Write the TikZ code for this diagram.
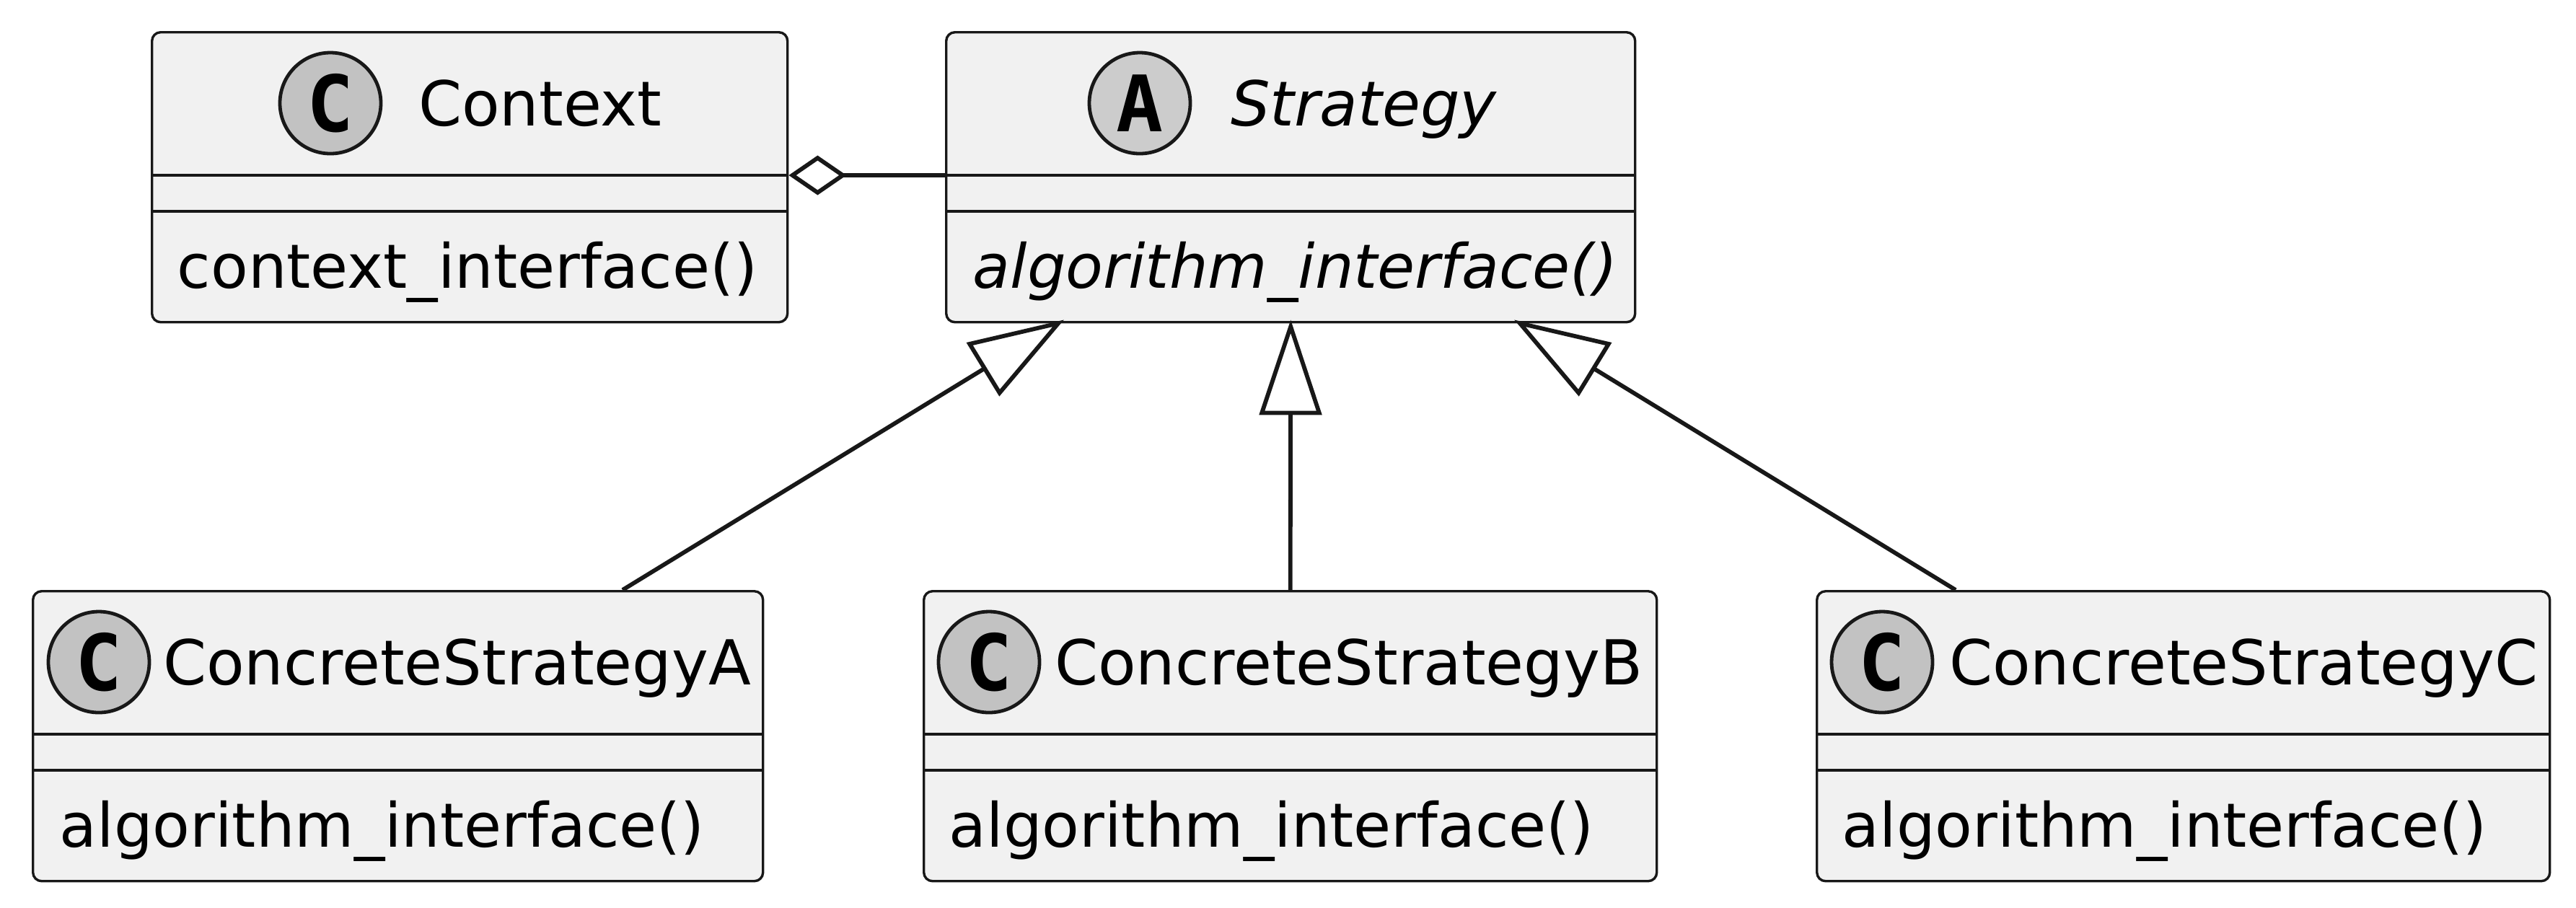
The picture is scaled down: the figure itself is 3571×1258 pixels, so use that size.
\documentclass[tikz,border=0pt]{standalone}
\usepackage{fontspec}
\setmainfont{DejaVu Sans}
\newfontfamily\spotfont{DejaVu Sans Mono}
\usepackage{xcolor}
\usetikzlibrary{arrows.meta,positioning,calc}

\definecolor{umlfill}{HTML}{F1F1F1}
\definecolor{umlline}{HTML}{181818}
\definecolor{spotclass}{HTML}{C2C2C2}
\definecolor{spotabstract}{HTML}{CCCCCC}

\tikzset{
  classbox/.style={draw=umlline, fill=umlfill, line width=0.85pt, rounded corners=3pt,
    inner sep=0pt, anchor=north west, minimum height=100.5pt},
  spot/.style={circle, draw=umlline, line width=1.2pt, minimum size=35pt, inner sep=0pt,
    font=\fontsize{27pt}{27pt}\spotfont\bfseries},
  umltext/.style={inner sep=0pt, text height=15.6pt, text depth=0pt,
    font=\fontsize{21.5pt}{25pt}\selectfont},
  optext/.style={umltext, anchor=west, text height=15.4pt,
    font=\fontsize{21.15pt}{25pt}\selectfont},
  sepline/.style={draw=umlline, line width=0.85pt},
  link/.style={draw=umlline, line width=1.45pt},
  realize/.style={link, -{Triangle[open, length=33pt, width=21.5pt]}}
}

\begin{document}
\begin{tikzpicture}[x=0.25pt,y=-0.25pt]
  \useasboundingbox (0,0) rectangle (3571,1258);

  % class boxes
  \node[classbox, minimum width=220.25pt] (ctx)   at (209,43)   {};
  \node[classbox, minimum width=238.75pt] (strat) at (1310,43)  {};
  \node[classbox, minimum width=253pt]    (csA)   at (44,818)   {};
  \node[classbox, minimum width=254pt]    (csB)   at (1279,818) {};
  \node[classbox, minimum width=254pt]    (csC)   at (2517,818) {};

  % compartment lines
  \draw[sepline] ($(ctx.north west)+(0,200)$)   -- ($(ctx.north east)+(0,200)$);
  \draw[sepline] ($(ctx.north west)+(0,250)$)   -- ($(ctx.north east)+(0,250)$);
  \draw[sepline] ($(strat.north west)+(0,200)$) -- ($(strat.north east)+(0,200)$);
  \draw[sepline] ($(strat.north west)+(0,250)$) -- ($(strat.north east)+(0,250)$);
  \draw[sepline] ($(csA.north west)+(0,200)$)   -- ($(csA.north east)+(0,200)$);
  \draw[sepline] ($(csA.north west)+(0,250)$)   -- ($(csA.north east)+(0,250)$);
  \draw[sepline] ($(csB.north west)+(0,200)$)   -- ($(csB.north east)+(0,200)$);
  \draw[sepline] ($(csB.north west)+(0,250)$)   -- ($(csB.north east)+(0,250)$);
  \draw[sepline] ($(csC.north west)+(0,200)$)   -- ($(csC.north east)+(0,200)$);
  \draw[sepline] ($(csC.north west)+(0,250)$)   -- ($(csC.north east)+(0,250)$);

  % headers
  \node[spot, fill=spotclass] (ctxSpot) at ($(ctx.north west)+(249,100)$) {C};
  \node[umltext, right=12.25pt of ctxSpot] (ctxName) {Context};
  \node[spot, fill=spotabstract] (stratSpot) at ($(strat.north west)+(270,100)$) {A};
  \node[umltext, right=13.25pt of stratSpot] (stratName) {\itshape Strategy};
  \node[spot, fill=spotclass] (csASpot) at ($(csA.north west)+(93,100)$) {C};
  \node[umltext, right=4pt of csASpot] (csAName) {ConcreteStrategyA};
  \node[spot, fill=spotclass] (csBSpot) at ($(csB.north west)+(92,100)$) {C};
  \node[umltext, right=4.5pt of csBSpot] (csBName) {ConcreteStrategyB};
  \node[spot, fill=spotclass] (csCSpot) at ($(csC.north west)+(92,100)$) {C};
  \node[umltext, right=5pt of csCSpot] (csCName) {ConcreteStrategyC};

  % operations
  \node[optext] (ctxOps)   at ($(ctx.north west)+(36,326)$)   {context\_interface()};
  \node[optext] (stratOps) at ($(strat.north west)+(38,326)$) {\itshape algorithm\_interface()};
  \node[optext] (csAOps)   at ($(csA.north west)+(38,326)$)   {algorithm\_interface()};
  \node[optext] (csBOps)   at ($(csB.north west)+(36,326)$)   {algorithm\_interface()};
  \node[optext] (csCOps)   at ($(csC.north west)+(36,326)$)   {algorithm\_interface()};

  % aggregation and generalisations
  \draw[link, -{Diamond[open, length=20pt, width=13.75pt]}]
        ($(strat.north west)+(0,200)$) -- ($(ctx.north east)+(0,200)$);
  \draw[realize] ($(csA.north west)+(819,0)$) -- ($(strat.south west)+(165,-5)$);
  \draw[realize] (csB.north) -- ($(strat.south)+(0,-5)$);
  \draw[realize] ($(csC.north west)+(194,0)$) -- ($(strat.south west)+(789,-5)$);
\end{tikzpicture}
\end{document}
